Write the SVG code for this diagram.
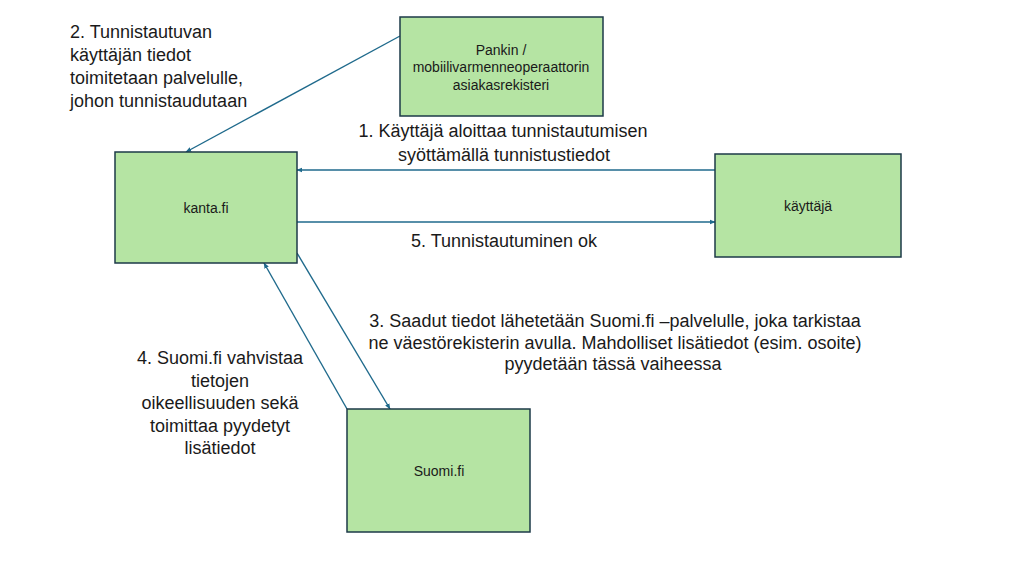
<svg xmlns="http://www.w3.org/2000/svg" width="1022" height="578" viewBox="0 0 1022 578">
<style>
.box{fill:#b5e4a3;stroke:#1d3a48;stroke-width:1.5}
.bt{font-family:"Liberation Sans",Arial,sans-serif;font-size:14px;fill:#1a1a1a;text-anchor:middle}
.lb{font-family:"Liberation Sans",Arial,sans-serif;font-size:18px;fill:#1a1a1a}
.c{text-anchor:middle}
.ln{stroke:#1f6a8c;stroke-width:1.4;fill:none;marker-end:url(#ah)}
</style>
<defs>
<marker id="ah" viewBox="0 0 10 10" refX="9" refY="5" markerWidth="6" markerHeight="6" orient="auto" markerUnits="userSpaceOnUse">
<path d="M0,1 L10,5 L0,9 z" fill="#1f6a8c"/>
</marker>
</defs>
<rect width="1022" height="578" fill="#ffffff"/>
<g id="connectors">
<line class="ln" x1="400" y1="36" x2="186" y2="152"/>
<line class="ln" x1="715" y1="170" x2="297" y2="170"/>
<line class="ln" x1="297" y1="222" x2="715" y2="222"/>
<line class="ln" x1="297" y1="253" x2="390" y2="409"/>
<line class="ln" x1="347" y1="409" x2="264" y2="263"/>
</g>
<g id="pankki">
<rect class="box" x="400" y="17" width="203" height="99"/>
<text class="bt" x="501" y="55">Pankin /</text>
<text class="bt" x="501" y="72">mobiilivarmenneoperaattorin</text>
<text class="bt" x="501" y="90">asiakasrekisteri</text>
</g>
<g id="kanta">
<rect class="box" x="115" y="152" width="182" height="111"/>
<text class="bt" x="206" y="213">kanta.fi</text>
</g>
<g id="kayttaja">
<rect class="box" x="715" y="154" width="186" height="103"/>
<text class="bt" x="808" y="211">käyttäjä</text>
</g>
<g id="suomi">
<rect class="box" x="347" y="409" width="183" height="123"/>
<text class="bt" x="439" y="476">Suomi.fi</text>
</g>
<g id="labels">
<text class="lb" x="70" y="38">2. Tunnistautuvan</text>
<text class="lb" x="70" y="61">käyttäjän tiedot</text>
<text class="lb" x="70" y="84">toimitetaan palvelulle,</text>
<text class="lb" x="70" y="107">johon tunnistaudutaan</text>
<text class="lb c" x="503" y="137">1. Käyttäjä aloittaa tunnistautumisen</text>
<text class="lb c" x="504" y="161">syöttämällä tunnistustiedot</text>
<text class="lb c" x="504" y="247">5. Tunnistautuminen ok</text>
<text class="lb c" x="615" y="327">3. Saadut tiedot lähetetään Suomi.fi –palvelulle, joka tarkistaa</text>
<text class="lb c" x="615" y="349">ne väestörekisterin avulla. Mahdolliset lisätiedot (esim. osoite)</text>
<text class="lb c" x="613" y="370">pyydetään tässä vaiheessa</text>
<text class="lb c" x="220" y="364">4. Suomi.fi vahvistaa</text>
<text class="lb c" x="220" y="387">tietojen</text>
<text class="lb c" x="220" y="409">oikeellisuuden sekä</text>
<text class="lb c" x="220" y="432">toimittaa pyydetyt</text>
<text class="lb c" x="220" y="454">lisätiedot</text>
</g>
</svg>
